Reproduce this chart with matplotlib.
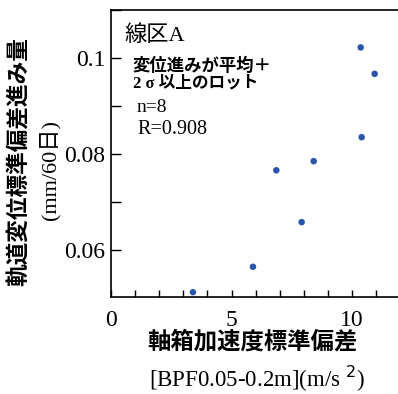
import matplotlib
matplotlib.use("Agg")
import matplotlib.pyplot as plt
from matplotlib.ticker import MultipleLocator

accel_std = [10.36, 10.94, 10.40, 8.41, 6.86, 7.91, 5.89, 3.40]
track_progress = [0.1022, 0.0967, 0.0835, 0.0785, 0.0766, 0.0658, 0.0565, 0.0512]
xticks = [0, 5, 10]
xticklabels = ["0", "5", "10"]
yticks = [0.06, 0.08, 0.1]
yticklabels = ["0.06", "0.08", "0.1"]

FAM = ["Liberation Serif", "Noto Sans CJK JP"]
plt.rcParams["font.family"] = FAM

W, H = 398, 394
fig = plt.figure(figsize=(W / 100, H / 100), dpi=100)
ax = fig.add_axes([111 / W, 1 - 297 / H, (W - 111) / W, 287 / H])
ax.scatter(accel_std, track_progress, s=22, color="#2a55aa", edgecolors="none", zorder=3)
ax.set_xlim(0, 287 / 24.1)
ax.set_ylim(0.0502, 0.110)
ax.spines["right"].set_visible(False)
for s in ["left", "bottom", "top"]:
    ax.spines[s].set_linewidth(1.2)
ax.set_xticks(xticks)
ax.set_xticklabels(xticklabels)
ax.set_yticks(yticks)
ax.set_yticklabels(yticklabels)
ax.xaxis.set_minor_locator(MultipleLocator(1))
ax.yaxis.set_minor_locator(MultipleLocator(0.01))
ax.tick_params(which="both", direction="in", top=False, right=False)
ax.tick_params(axis="x", which="both", length=5, width=1, labelsize=17, pad=9)
ax.tick_params(axis="y", which="both", length=7, width=1, labelsize=17, pad=4)

# y labels
fig.text(19 / W, 1 - 162 / H, "軌道変位標準偏差進み量", rotation=90, ha="center", va="center",
         fontsize=16.3, fontweight="bold", family=["Noto Sans CJK JP"])
fig.text(50 / W, 1 - 170 / H, "(mm/60日)", rotation=90, ha="center", va="center",
         fontsize=16, family=FAM)
# x labels
fig.text(252 / W, 1 - 342 / H, "軸箱加速度標準偏差", ha="center", va="center",
         fontsize=16.8, fontweight="bold", family=["Noto Sans CJK JP"])
fig.text(257 / W, 1 - 379 / H, "[BPF0.05-0.2m](m/s $^{2}$)", ha="center", va="center",
         fontsize=16.5, family=FAM)

# annotations
fig.text(124 / W, 1 - 36 / H, "線区A", ha="left", va="center", fontsize=16, family=FAM)
fig.text(133 / W, 1 - 66 / H, "変位進みが平均＋", ha="left", va="center", fontsize=12.5,
         fontweight="bold", family=["Noto Sans CJK JP"])
fig.text(133 / W, 1 - 83 / H, "2 σ 以上のロット", ha="left", va="center", fontsize=12,
         fontweight="bold", family=FAM)
fig.text(137 / W, 1 - 108 / H, "n=8", ha="left", va="center", fontsize=14, family=FAM)
fig.text(137 / W, 1 - 130 / H, "R=0.908", ha="left", va="center", fontsize=14.5, family=FAM)

fig.savefig("out.png", dpi=100)
